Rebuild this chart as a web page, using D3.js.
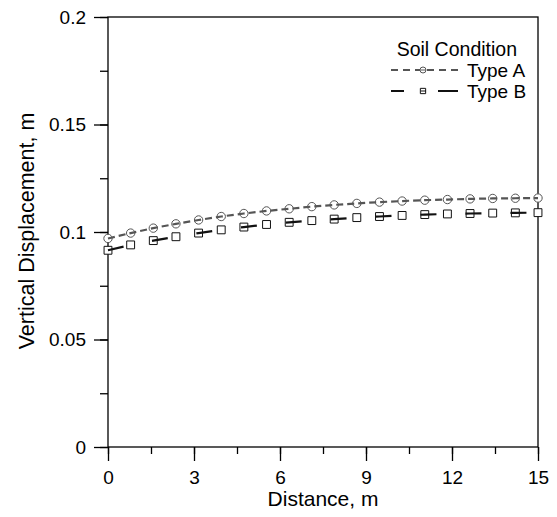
<!DOCTYPE html>
<html>
<head>
<meta charset="utf-8">
<script src="https://cdn.jsdelivr.net/npm/d3@7/dist/d3.min.js"></script>
<style>
  body { margin: 0; background: #fff; }
  svg { font-family: "Liberation Sans", Arial, sans-serif; }
</style>
</head>
<body>
<svg id="chart"></svg>
<script>
// distance along the section (m)
let distance = [0, 0.79, 1.58, 2.37, 3.16, 3.95, 4.74, 5.53, 6.32, 7.11,
                7.89, 8.68, 9.47, 10.26, 11.05, 11.84, 12.63, 13.42, 14.21, 15];
// vertical displacement (m)
let typeA = [0.0970, 0.0995, 0.1018, 0.1038, 0.1056, 0.1072, 0.1086, 0.1098, 0.1108, 0.1118,
             0.1126, 0.1133, 0.1139, 0.1144, 0.1148, 0.1151, 0.1154, 0.1156, 0.1157, 0.1158];
let typeB = [0.0915, 0.0940, 0.0960, 0.0978, 0.0995, 0.1010, 0.1023, 0.1035, 0.1045, 0.1053,
             0.1060, 0.1067, 0.1072, 0.1077, 0.1081, 0.1084, 0.1086, 0.1088, 0.1089, 0.1090];
let xTicks = [0, 3, 6, 9, 12, 15];
let yTicks = [0, 0.05, 0.1, 0.15, 0.2];

let W = 557, H = 517;
let mLeft = 108, mRight = 538, mTop = 17, mBottom = 447;
let font = "Liberation Sans, Arial, sans-serif";

let svg = d3.select("#chart").attr("width", W).attr("height", H);

let x = d3.scaleLinear().domain([0, 15]).range([mLeft, mRight]);
let y = d3.scaleLinear().domain([0, 0.2]).range([mBottom, mTop]);

// frame
svg.append("rect")
  .attr("x", mLeft).attr("y", mTop)
  .attr("width", mRight - mLeft).attr("height", mBottom - mTop)
  .attr("fill", "none").attr("stroke", "#000").attr("stroke-width", 1.3);

// x axis (minor + major)
let xMinor = svg.append("g").attr("transform", "translate(0," + mBottom + ")")
  .call(d3.axisBottom(x).tickValues(d3.range(0, 15.01, 1.5)).tickSize(7).tickFormat(""));
xMinor.select(".domain").remove();
let xMajor = svg.append("g").attr("transform", "translate(0," + mBottom + ")")
  .call(d3.axisBottom(x).tickValues(xTicks).tickSize(14).tickPadding(10).tickFormat(d3.format("d")));
xMajor.select(".domain").remove();
xMajor.selectAll("text").attr("font-size", 19).attr("fill", "#000").attr("font-family", font);

// y axis (minor + major)
let yMinor = svg.append("g").attr("transform", "translate(" + mLeft + ",0)")
  .call(d3.axisLeft(y).tickValues(d3.range(0, 0.2001, 0.025)).tickSize(8).tickFormat(""));
yMinor.select(".domain").remove();
let yMajor = svg.append("g").attr("transform", "translate(" + mLeft + ",0)")
  .call(d3.axisLeft(y).tickValues(yTicks).tickSize(14).tickPadding(8).tickFormat(d => d === 0 ? "0" : String(+d.toFixed(2))));
yMajor.select(".domain").remove();
yMajor.selectAll("text").attr("font-size", 19).attr("fill", "#000").attr("font-family", font);

svg.selectAll(".tick line").attr("stroke", "#000").attr("stroke-width", 1.3);

// titles
svg.append("text")
  .attr("x", (mLeft + mRight) / 2).attr("y", 506)
  .attr("text-anchor", "middle").attr("font-size", 21)
  .text("Distance, m");
svg.append("text")
  .attr("transform", "translate(34,231) rotate(-90)")
  .attr("text-anchor", "middle").attr("font-size", 21.5)
  .text("Vertical Displacement, m");

let series = [
  { name: "Type A", values: typeA, color: "#555", dash: "7,4", shape: "circle" },
  { name: "Type B", values: typeB, color: "#111", dash: "16,29", shape: "square" }
];

let line = d3.line().x(d => x(d[0])).y(d => y(d[1]));

series.forEach(s => {
  let pts = distance.map((d, i) => [d, s.values[i]]);
  let g = svg.append("g");
  g.selectAll(".m").data(pts).enter().append("path")
    .attr("d", d3.symbol().type(s.shape === "circle" ? d3.symbolCircle : d3.symbolSquare).size(s.shape === "circle" ? 55 : 62))
    .attr("transform", d => "translate(" + x(d[0]) + "," + y(d[1]) + ")")
    .attr("fill", "#fff").attr("stroke", s.color).attr("stroke-width", 1);
  g.append("path").datum(pts)
    .attr("d", line)
    .attr("fill", "none").attr("stroke", s.color)
    .attr("stroke-width", 2.2).attr("stroke-dasharray", s.dash);
});

// legend
let lg = svg.append("g");
lg.append("text").attr("x", 517).attr("y", 56).attr("text-anchor", "end")
  .attr("font-size", 19.5).text("Soil Condition");
series.forEach((s, i) => {
  let ly = 70 + i * 21;
  lg.append("line").attr("x1", 391).attr("x2", 458).attr("y1", ly).attr("y2", ly)
    .attr("stroke", s.color).attr("stroke-width", 2.2)
    .attr("stroke-dasharray", i === 0 ? "7,5" : "13,34,20");
  lg.append("path")
    .attr("d", d3.symbol().type(s.shape === "circle" ? d3.symbolCircle : d3.symbolSquare).size(28))
    .attr("transform", "translate(423," + ly + ")")
    .attr("fill", "#fff").attr("stroke", s.color).attr("stroke-width", 1);
  lg.append("line").attr("x1", 421).attr("x2", 426).attr("y1", ly).attr("y2", ly)
    .attr("stroke", s.color).attr("stroke-width", 1);
  lg.append("text").attr("x", 467).attr("y", ly + 7).attr("font-size", 19).text(s.name);
});
</script>
</body>
</html>
